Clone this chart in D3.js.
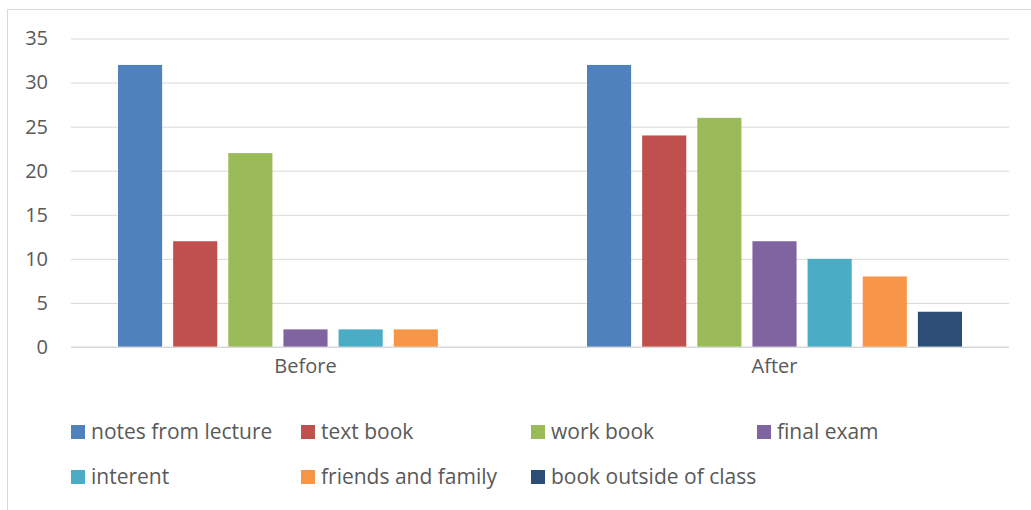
<!DOCTYPE html>
<html><head><meta charset="utf-8">
<script src="https://cdn.jsdelivr.net/npm/d3@7"></script>
<style>body{margin:0;background:#fff}svg{display:block}text{font-family:"Open Sans","Liberation Sans",sans-serif;fill:#595959}</style>
</head><body><svg id="c" width="1031" height="510"></svg>
<script>
const categories = ["Before","After"];
const seriesNames = ["notes from lecture","text book","work book","final exam","interent","friends and family","book outside of class"];
const before = [32,12,22,2,2,2,0];
const after = [32,24,26,12,10,8,4];
const colors = ["#4F81BD","#C0504D","#9BBB59","#8064A2","#4BACC6","#F79646","#2C4D75"];
const yTicks = [0,5,10,15,20,25,30,35];
const values = [before, after];

const svg = d3.select("#c");
svg.append("rect").attr("x",7.5).attr("y",9.5).attr("width",1040).attr("height",520).attr("fill","none").attr("stroke","#d9d9d9");

const x0 = d3.scaleBand().domain(categories).range([71,1009]).paddingInner(0).paddingOuter(0);
const y = d3.scaleLinear().domain([0,35]).range([347,38.5]);
const x1 = d3.scaleBand().domain(seriesNames).range([47,469-47]).paddingInner(0.2).paddingOuter(0);

const yAxis = d3.axisLeft(y).tickValues(yTicks).tickSize(-(1009-71)).tickPadding(23);
const gy = svg.append("g").attr("transform","translate(71,0)").call(yAxis);
gy.select(".domain").remove();
gy.selectAll("line").attr("stroke","#d9d9d9").attr("stroke-width",1);
gy.selectAll("text").style("font-size","20px").attr("fill","#595959");

const g = svg.append("g");
categories.forEach((c,ci)=>{
  seriesNames.forEach((s,si)=>{
    const v = values[ci][si];
    g.append("rect").attr("x",x0(c)+x1(s)).attr("y",y(v)).attr("width",x1.bandwidth()).attr("height",y(0)-y(v)).attr("fill",colors[si]);
  });
});
svg.append("line").attr("x1",71).attr("x2",1009).attr("y1",y(0)).attr("y2",y(0)).attr("stroke","#d9d9d9");

const xAxis = d3.axisBottom(x0).tickSize(0).tickPadding(12);
const gx = svg.append("g").attr("transform",`translate(0,${y(0)})`).call(xAxis);
gx.select(".domain").remove();
gx.selectAll("text").style("font-size","20px").attr("fill","#595959");

const legX = [71,301,531,757];
const legY = [432,477];
seriesNames.forEach((s,i)=>{
  const col = i%4, row = Math.floor(i/4);
  const lg = svg.append("g").attr("transform",`translate(${legX[col]},${legY[row]})`);
  lg.append("rect").attr("x",0).attr("y",-7).attr("width",14).attr("height",14).attr("fill",colors[i]);
  lg.append("text").attr("x",20).attr("y",0).attr("dy","0.35em").style("font-size","21px").text(s);
});
</script></body></html>
